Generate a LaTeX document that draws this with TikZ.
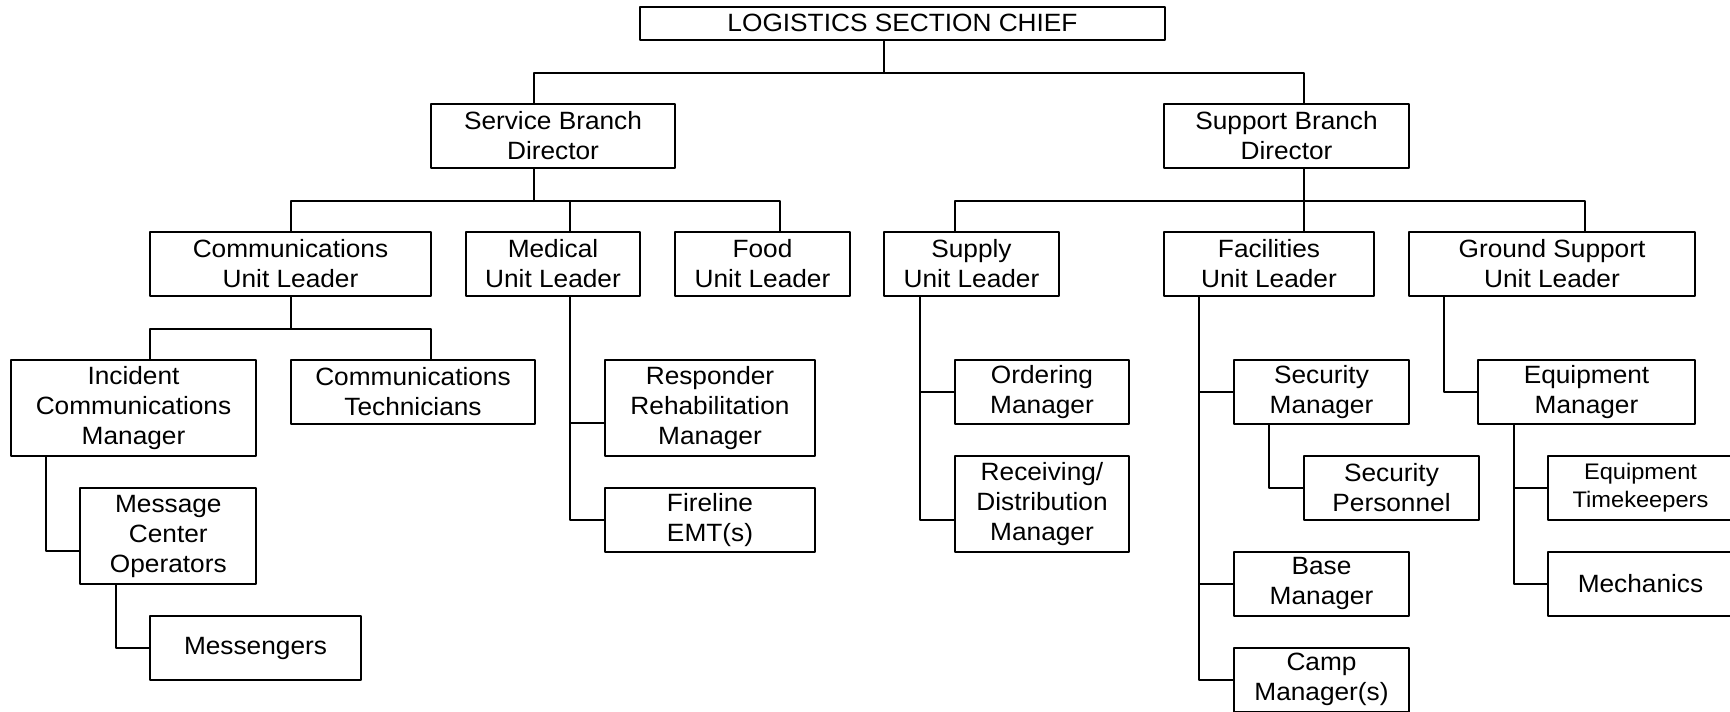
\documentclass[tikz,border=0pt]{standalone}
\usepackage{fontspec}
\setmainfont{Liberation Sans}[FakeStretch=1.05]
\usepackage{tikz}

\begin{document}
\begin{tikzpicture}[x=1pt,y=-1pt,line cap=round,line join=round,line width=2pt,
  font=\fontsize{25}{30}\selectfont,
  box/.style={draw,align=center,inner sep=0pt,minimum height=64pt},
  tall/.style={box,minimum height=96pt},
  small/.style={font=\fontsize{22.5}{28}\selectfont}]
\useasboundingbox (0,0) rectangle (1730,712);
\clip (0,0) rectangle (1730,712);
\fill[white] (0,0) rectangle (1730,712);
% chief and the two branch directors
\node[box,minimum width=525pt,minimum height=33.3pt] (chief) at (902.5,23.35) {LOGISTICS SECTION CHIEF};
\node[box,minimum width=244pt] (svc) at (553,135.7) {Service Branch\\Director};
\node[box,minimum width=245pt] (sup) at (1286.5,135.7) {Support Branch\\Director};
% unit leaders
\node[box,minimum width=281pt] (comm) at (290.5,263.7) {Communications\\Unit Leader};
\node[box,minimum width=174pt] (med) at (553,263.7) {Medical\\Unit Leader};
\node[box,minimum width=175pt] (food) at (762.5,263.7) {Food\\Unit Leader};
\node[box,minimum width=175pt] (supl) at (971.5,263.7) {Supply\\Unit Leader};
\node[box,minimum width=210pt] (fac) at (1269,263.7) {Facilities\\Unit Leader};
\node[box,minimum width=286pt] (gnd) at (1552,263.7) {Ground Support\\Unit Leader};
% service branch staff
\node[tall,minimum width=245pt] (icm) at (133.5,408) {Incident\\Communications\\Manager};
\node[box,minimum width=244pt] (tech) at (413,391.8) {Communications\\Technicians};
\node[tall,minimum width=176pt] (msgc) at (168.3,536) {Message\\Center\\Operators};
\node[box,minimum width=211pt] (msgr) at (255.5,648) {Messengers};
\node[tall,minimum width=210pt] (rehab) at (710,408) {Responder\\Rehabilitation\\Manager};
\node[box,minimum width=210pt] (emt) at (710,519.7) {Fireline\\EMT(s)};
% support branch staff
\node[box,minimum width=174pt] (order) at (1042,391.8) {Ordering\\Manager};
\node[tall,minimum width=174pt] (recv) at (1042,504) {Receiving/\\Distribution\\Manager};
\node[box,minimum width=175pt] (secm) at (1321.5,391.8) {Security\\Manager};
\node[box,minimum width=175pt] (secp) at (1391.5,488) {Security\\Personnel};
\node[box,minimum width=175pt] (base) at (1321.5,583.8) {Base\\Manager};
\node[box,minimum width=175pt] (camp) at (1321.5,679.5) {Camp\\Manager(s)};
\node[box,minimum width=217pt] (eqm) at (1586.5,391.8) {Equipment\\Manager};
\node[box,small,minimum width=185pt] (eqtk) at (1640.5,488) {Equipment\\Timekeepers};
\node[box,minimum width=185pt] (mech) at (1640.5,583.8) {Mechanics};
% buses
\draw ([xshift=-18.5pt]chief.south) -- ++(0,32) coordinate (b0);
\draw (b0) -| ([xshift=-19pt]svc.north);
\draw (b0) -| ([xshift=17.5pt]sup.north);
\draw ([xshift=-19pt]svc.south) -- ++(0,32.3) coordinate (b1);
\draw (b1) -| ([xshift=0.5pt]comm.north);
\draw (b1) -| ([xshift=17pt]med.north);
\draw (b1) -| ([xshift=17.5pt]food.north);
\draw ([xshift=17.5pt]sup.south) -- ++(0,32.3) coordinate (b2);
\draw (b2) -| ([xshift=-16.5pt]supl.north);
\draw (b2) -| ([xshift=35pt]fac.north);
\draw (b2) -| ([xshift=33pt]gnd.north);
\draw ([xshift=0.5pt]comm.south) -- ++(0,32) coordinate (b3);
\draw (b3) -| ([xshift=16.5pt]icm.north);
\draw (b3) -| ([xshift=18pt]tech.north);
% side trunks
\draw ([xshift=-87.5pt]icm.south) |- ([yshift=-15pt]msgc.west);
\draw ([xshift=-52.3pt]msgc.south) |- (msgr.west);
\draw ([xshift=17pt]med.south) |- ([yshift=-15.3pt]rehab.west);
\draw ([xshift=17pt]med.south) |- (emt.west);
\draw ([xshift=-51.5pt]supl.south) |- (order.west);
\draw ([xshift=-51.5pt]supl.south) |- ([yshift=-16pt]recv.west);
\draw ([xshift=-70pt]fac.south) |- (secm.west);
\draw ([xshift=-70pt]fac.south) |- (base.west);
\draw ([xshift=-70pt]fac.south) |- (camp.west);
\draw ([xshift=-52.5pt]secm.south) |- (secp.west);
\draw ([xshift=-108pt]gnd.south) |- (eqm.west);
\draw ([xshift=-72.5pt]eqm.south) |- (eqtk.west);
\draw ([xshift=-72.5pt]eqm.south) |- (mech.west);
\end{tikzpicture}
\end{document}
